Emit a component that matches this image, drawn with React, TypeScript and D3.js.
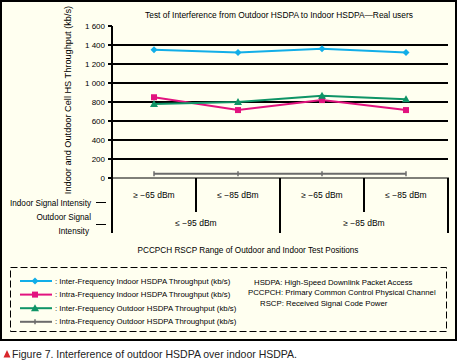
import React from "react";
import * as d3 from "d3";

const POSITIONS = ["p1", "p2", "p3", "p4"];
const INDOOR_LABELS = ["≥ −65 dBm", "≤ −85 dBm", "≥ −65 dBm", "≤ −85 dBm"];
const OUTDOOR_LABELS = ["≤ −95 dBm", "≥ −85 dBm"];
const Y_TICKS = [0, 200, 400, 600, 800, 1000, 1200, 1400, 1600];

const interIndoor = [1350, 1320, 1360, 1320];
const intraIndoor = [850, 715, 820, 715];
const interOutdoor = [780, 800, 865, 830];
const intraOutdoor = [45, 45, 45, 45];

const SERIES = [
  { name: ": Inter-Frequency Indoor HSDPA Throughput (kb/s)", values: interIndoor, color: "#12aee8", marker: "diamond" },
  { name: ": Intra-Frequency Indoor HSDPA Throughput (kb/s)", values: intraIndoor, color: "#e2137f", marker: "square" },
  { name: ": Inter-Frequency Outdoor HSDPA Throughput (kb/s)", values: interOutdoor, color: "#0f9466", marker: "triangle" },
  { name: ": Intra-Frequency Outdoor HSDPA Throughput (kb/s)", values: intraOutdoor, color: "#6b6b6b", marker: "plus" },
];

const ABBREVS = [
  { text: "HSDPA: High-Speed Downlink Packet Access", x: 254 },
  { text: "PCCPCH: Primary Common Control Physical Channel", x: 248 },
  { text: "RSCP: Received Signal Code Power", x: 260 },
];

const FONT = "'Liberation Sans', Arial, sans-serif";

function Marker({ type, x, y, color }) {
  if (type === "diamond") {
    return <path d={`M${x},${y - 3.5}L${x + 3.5},${y}L${x},${y + 3.5}L${x - 3.5},${y}Z`} fill={color} />;
  }
  if (type === "square") {
    return <rect x={x - 3} y={y - 3} width={6} height={6} fill={color} />;
  }
  if (type === "triangle") {
    return <path d={`M${x},${y - 4}L${x + 4},${y + 3}L${x - 4},${y + 3}Z`} fill={color} />;
  }
  return <path d={`M${x},${y - 2.5}V${y + 2.5}`} stroke={color} strokeWidth={1.5} />;
}

export default function App() {
  const x = d3.scaleBand().domain(POSITIONS).range([112, 448]);
  const y = d3.scaleLinear().domain([0, 1600]).range([178, 26]);
  const cx = (i) => x(POSITIONS[i]) + x.bandwidth() / 2;
  const fmt = (v) => d3.format(",")(v).replace(",", " ");
  const line = d3
    .line()
    .x((d, i) => cx(i))
    .y((d) => y(d));

  const bottom = y(0);

  return (
    <svg
      width={459}
      height={361}
      style={{ position: "absolute", left: 0, top: 0, background: "#fff" }}
      fontFamily={FONT}
    >
      <rect x={1} y={1} width={455} height={339} fill="#fffff0" stroke="#000" strokeWidth={2} />

      <text x={279} y={18} textAnchor="middle" fontSize={8.4} fill="#000">
        Test of Interference from Outdoor HSDPA to Indoor HSDPA—Real users
      </text>

      {/* y grid and axis */}
      {Y_TICKS.map((t) => (
        <g key={t}>
          {t > 0 && t < 1600 && (
            <line x1={112} x2={448} y1={y(t)} y2={y(t)} stroke="#000" strokeWidth={2} />
          )}
          <line x1={108} x2={112} y1={y(t)} y2={y(t)} stroke="#000" strokeWidth={2} />
          <text x={105} y={y(t) + 3} textAnchor="end" fontSize={8} fill="#000">
            {fmt(t)}
          </text>
        </g>
      ))}
      <line x1={112} x2={112} y1={y(1600)} y2={233} stroke="#000" strokeWidth={2} />
      <line x1={112} x2={449} y1={bottom} y2={bottom} stroke="#000" strokeWidth={1} />

      <text
        transform={`translate(71,100) rotate(-90)`}
        textAnchor="middle"
        fontSize={9.2}
        fill="#000"
      >
        Indoor and Outdoor Cell HS Throughput (kb/s)
      </text>

      {/* category dividers */}
      {POSITIONS.map((p, i) => {
        const xr = x(p) + x.bandwidth();
        const long = i % 2 === 1;
        return (
          <line
            key={p}
            x1={xr}
            x2={xr}
            y1={bottom}
            y2={long ? 233 : 212}
            stroke="#000"
            strokeWidth={2}
          />
        );
      })}

      {INDOOR_LABELS.map((l, i) => (
        <text key={i} x={cx(i)} y={198} textAnchor="middle" fontSize={8.5} fill="#000">
          {l}
        </text>
      ))}
      {OUTDOOR_LABELS.map((l, i) => (
        <text
          key={i}
          x={x(POSITIONS[i * 2]) + x.bandwidth()}
          y={225.5}
          textAnchor="middle"
          fontSize={8.5}
          fill="#000"
        >
          {l}
        </text>
      ))}

      <text x={91} y={205.5} textAnchor="end" fontSize={8.2} fill="#000">
        Indoor Signal Intensity
      </text>
      <line x1={96} x2={106} y1={202.5} y2={202.5} stroke="#000" strokeWidth={1} />
      <text x={91} y={220} textAnchor="end" fontSize={8.2} fill="#000">
        Outdoor Signal
      </text>
      <text x={89} y={233.5} textAnchor="end" fontSize={8.2} fill="#000">
        Intensity
      </text>
      <line x1={96} x2={106} y1={224.5} y2={224.5} stroke="#000" strokeWidth={1} />

      <text x={248} y={253} textAnchor="middle" fontSize={8.2} fill="#000">
        PCCPCH RSCP Range of Outdoor and Indoor Test Positions
      </text>

      {/* series */}
      {SERIES.map((s) => (
        <g key={s.name}>
          <path d={line(s.values)} fill="none" stroke={s.color} strokeWidth={2} />
          {s.values.map((v, i) => (
            <Marker key={i} type={s.marker} x={cx(i)} y={y(v)} color={s.color} />
          ))}
        </g>
      ))}

      {/* legend */}
      <rect
        x={10.5}
        y={267.5}
        width={436}
        height={64}
        fill="#fffff0"
        stroke="#000"
        strokeWidth={1}
        strokeDasharray="7,3"
      />
      {SERIES.map((s, i) => {
        const ly = 281 + i * 13.6;
        return (
          <g key={s.name}>
            <line x1={20} x2={52} y1={ly} y2={ly} stroke={s.color} strokeWidth={2} />
            <Marker type={s.marker} x={35} y={ly} color={s.color} />
            <text x={55} y={ly + 2.5} fontSize={7.8} fill="#000">
              {s.name}
            </text>
          </g>
        );
      })}
      {ABBREVS.map((a, i) => (
        <text key={a.text} x={a.x} y={284.5 + i * 10.5} fontSize={7.8} fill="#000">
          {a.text}
        </text>
      ))}

      {/* caption */}
      <path d="M7,350L10.5,357.5L3.5,357.5Z" fill="#d9262b" />
      <text x={12} y={358} fontSize={10.5} fill="#222">
        Figure 7. Interference of outdoor HSDPA over indoor HSDPA.
      </text>
    </svg>
  );
}
